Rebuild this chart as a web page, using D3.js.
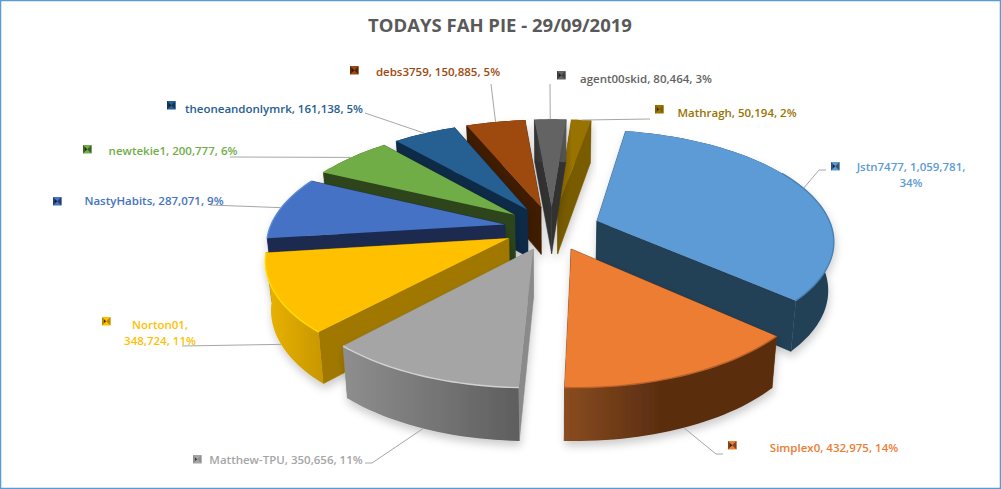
<!DOCTYPE html>
<html lang="en">
<head>
<meta charset="UTF-8">
<title>Todays FAH Pie</title>
<style>
  html, body { margin: 0; padding: 0; background: #fff; }
  svg { display: block; }
  .title { font: bold 18.5px "Open Sans", sans-serif; fill: #595959; text-anchor: middle; }
  .label { font: 600 11.5px "Open Sans", sans-serif; text-anchor: middle; }
  .leader { fill: none; stroke: #a6a6a6; stroke-width: 1; }
</style>
</head>
<body>
<svg width="1001" height="489"></svg>
<script src="https://cdn.jsdelivr.net/npm/d3@7"></script>
<script>
// values
var names = ["Jstn7477", "Simplex0", "Matthew-TPU", "Norton01", "NastyHabits", "newtekie1", "theoneandonlymrk", "debs3759", "agent00skid", "Mathragh"];
var values = [1059781, 432975, 350656, 348724, 287071, 200777, 161138, 150885, 80464, 50194];
var percents = [34, 14, 11, 11, 9, 6, 5, 5, 3, 2];

// slice colours
var topColors = ["#5b9bd5", "#ed7d31", "#a5a5a5", "#ffc000", "#4472c4", "#70ad47", "#255e91", "#9e480e", "#636363", "#997300"];
var sideColors = ["#243f57", "#5e3013", "#8a8a8a", "#a07800", "#1a2c50", "#2f451c", "#0e2a47", "#3f1e06", "#333333", "#7a5c00"];
var wallLeft = ["#243f57", "#8a4c20", "#8e8e8e", "#eab400", "#1a2c50", "#2f451c", "#0e2a47", "#3f1e06", "#333333", "#7a5c00"];
var wallRight = ["#243f57", "#5a2e10", "#5e5e5e", "#c89600", "#1a2c50", "#2f451c", "#0e2a47", "#3f1e06", "#555555", "#7a5c00"];
var wallEnd = ["100%", "45%", "100%", "100%", "100%", "100%", "100%", "100%", "100%", "100%"];
var rimColors = ["#4a80b4", "#b9602a", "#d2d2d2", "#ffdc00", "#5b8ad6", "#70ad47", "#255e91", "#9e480e", "#636363", "#997300"];

// label layout: key box, text lines and leader elbow
var labelLines = [
  ["Jstn7477, 1,059,781,", "34%"], ["Simplex0, 432,975, 14%"], ["Matthew-TPU, 350,656, 11%"],
  ["Norton01,", "348,724, 11%"], ["NastyHabits, 287,071, 9%"], ["newtekie1, 200,777, 6%"],
  ["theoneandonlymrk, 161,138, 5%"], ["debs3759, 150,885, 5%"], ["agent00skid, 80,464, 3%"], ["Mathragh, 50,194, 2%"]
];
var labelX = [911, 834, 286, 160, 154, 173, 274, 438, 646, 737];
var labelY = [171, 452, 464, 329, 205, 155, 113, 76, 83, 117];
var keyX = [831, 728, 193, 102, 53, 83, 167, 350, 557, 655];
var keyY = [162, 441, 455, 317, 197, 145, 101, 66, 71, 105];
var elbows = [
  [[819, 170], [826, 170]], [[716, 454], [723, 454]], [[372, 463], [365, 463]], [[182, 346]],
  [[210, 205]], [[230, 157]], [[365, 113]], [[491, 84]], [[550, 84]], [[650, 119]]
];

var width = 1001, height = 489;
var svg = d3.select("svg");
var defs = svg.append("defs");

// chart frame
svg.append("rect").attr("x", 0.5).attr("y", 0.5).attr("width", width - 1).attr("height", height - 1)
  .attr("fill", "#fff").attr("stroke", "#5b9bd5").attr("stroke-width", 1.5);

svg.append("text").attr("class", "title").attr("x", 500).attr("y", 32).text("TODAYS FAH PIE - 29/09/2019");

// pie geometry
var cx = 552, cy = 228, radius = 235, explode = 48, depth = 48;
var tilt = 0.46, persp = 0.0007, shrink = 0.98;

// ground plane to screen, gy grows towards the back of the pie
function project(gx, gy, bottom) {
  var s = 1 / (1 + persp * gy);
  var x = gx * s, y = -gy * tilt * s;
  if (bottom) {
    x *= shrink;
    y += depth * (1 - gy * 0.0004);
  }
  return [cx + x, cy + y];
}

function groundPoint(d, a, r) {
  var mid = (d.startAngle + d.endAngle) / 2;
  return [explode * Math.sin(mid) + r * Math.sin(a), explode * Math.cos(mid) + r * Math.cos(a)];
}

function at(d, a, r, bottom) {
  var g = groundPoint(d, a, r);
  return project(g[0], g[1], bottom);
}

var firstAngle = 10 * Math.PI / 180;
var pie = d3.pie().sort(null).startAngle(firstAngle).endAngle(firstAngle + 2 * Math.PI);
var slices = pie(values);
var line = d3.line();

function rimAngles(d) {
  var n = Math.max(4, Math.ceil((d.endAngle - d.startAngle) / 0.03));
  return d3.range(n + 1).map(function (i) { return d.startAngle + (d.endAngle - d.startAngle) * i / n; });
}

// soft shadow under each slice, blur for the bevel line
var shadow = defs.append("filter").attr("id", "shadow")
  .attr("x", "-15%").attr("y", "-15%").attr("width", "130%").attr("height", "130%");
shadow.append("feDropShadow").attr("dx", 1).attr("dy", 5).attr("stdDeviation", 4)
  .attr("flood-color", "#000").attr("flood-opacity", 0.2);
defs.append("filter").attr("id", "soft").append("feGaussianBlur").attr("stdDeviation", 0.7);

slices.forEach(function (d, i) {
  var g = defs.append("linearGradient").attr("id", "wall" + i);
  g.append("stop").attr("offset", "0%").attr("stop-color", wallLeft[i]);
  g.append("stop").attr("offset", wallEnd[i]).attr("stop-color", wallRight[i]);
});

// painter's order, back slices first
var order = [9, 8, 7, 6, 5, 4, 3, 0, 2, 1];

order.forEach(function (i) {
  var d = slices[i];
  var g = svg.append("g").attr("filter", "url(#shadow)");
  var angles = rimAngles(d);
  var apexTop = at(d, 0, 0, false), apexBottom = at(d, 0, 0, true);

  [d.startAngle, d.endAngle].forEach(function (a) {
    g.append("path").attr("fill", sideColors[i]).attr("stroke", sideColors[i]).attr("stroke-width", 0.5)
      .attr("d", line([apexTop, at(d, a, radius, false), at(d, a, radius, true), apexBottom]) + "Z");
  });

  var rimTop = angles.map(function (a) { return at(d, a, radius, false); });
  var rimBottom = angles.map(function (a) { return at(d, a, radius, true); });
  g.append("path").attr("fill", "url(#wall" + i + ")")
    .attr("d", line(rimTop.concat(rimBottom.slice().reverse())) + "Z");

  g.append("path").attr("fill", topColors[i])
    .attr("d", line([apexTop].concat(rimTop)) + "Z");

  // bevel only on the part of the rim that faces the viewer
  var bevel = angles.filter(function (a) { return Math.cos(a) < 0.5; })
    .map(function (a) { return at(d, a, radius, false); });
  if (bevel.length > 1) {
    g.append("path").attr("fill", "none").attr("stroke", rimColors[i]).attr("stroke-width", 1.4)
      .attr("filter", "url(#soft)").attr("d", line(bevel));
  }
});

// leader lines start on the rim at the middle of each slice
slices.forEach(function (d, i) {
  var mid = (d.startAngle + d.endAngle) / 2;
  var front = Math.cos(mid) < -0.3;
  var pts = [at(d, mid, radius, front)].concat(elbows[i]);
  svg.append("path").attr("class", "leader").attr("d", line(pts));
});

// labels with their legend keys
names.forEach(function (name, i) {
  var key = svg.append("g").attr("transform", "translate(" + keyX[i] + "," + keyY[i] + ")");
  key.append("rect").attr("width", 8.5).attr("height", 8.5).attr("fill", topColors[i]);
  key.append("path").attr("d", "M0,0L4.2,4.2L0,8.5ZM8.5,0L4.2,4.2L8.5,8.5Z").attr("fill", sideColors[i]).attr("opacity", 0.75);
  key.append("path").attr("d", "M2,2.5L4.2,4.2L2,6Z").attr("fill", "#111").attr("opacity", 0.7);

  var t = svg.append("text").attr("class", "label").attr("fill", topColors[i]);
  labelLines[i].forEach(function (txt, j) {
    t.append("tspan").attr("x", labelX[i]).attr("y", labelY[i] + j * 16).text(txt);
  });
});
</script>
</body>
</html>
